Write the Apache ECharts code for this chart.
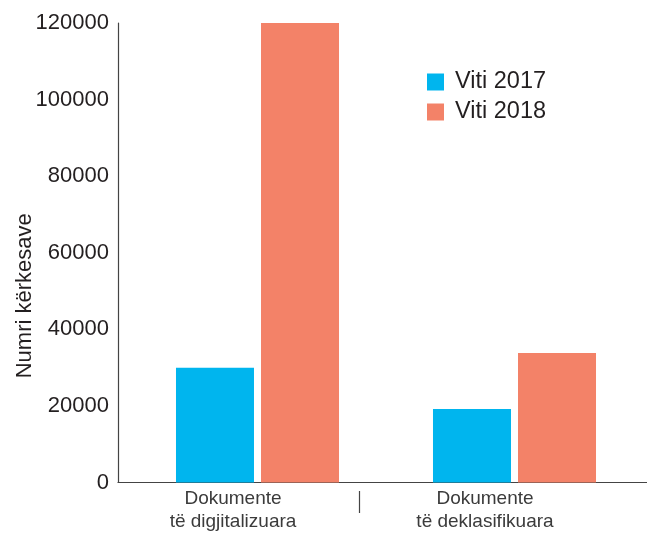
<!DOCTYPE html>
<html>
<head>
<meta charset="utf-8">
<script src="https://cdn.jsdelivr.net/npm/echarts@6/dist/echarts.min.js"></script>
<style>
  html, body { margin: 0; padding: 0; background: #fff; }
  #chart { width: 647px; height: 534px; }
</style>
</head>
<body>
<div id="chart"></div>
<script>
  // data
  const categories = ['Dokumente\ntë digjitalizuara', 'Dokumente\ntë deklasifikuara'];
  const seriesNames = ['Viti 2017', 'Viti 2018'];
  const viti2017 = [30000, 19200];
  const viti2018 = [120000, 33800];
  const yMin = 0;
  const yMax = 120000;
  const yStep = 20000;
  const yName = 'Numri kërkesave';

  const font = 'Liberation Sans, Arial, sans-serif';
  const axisColor = '#444';
  const textColor = '#231f20';

  // label axis: a blank slot between the two categories carries the separator tick
  const labelCats = [categories[0], '', categories[1]];

  let myChart = echarts.init(document.getElementById('chart'));
  let option = {
    animation: false,
    textStyle: { fontFamily: font },
    grid: [
      { left: 118, right: 0, top: 23, bottom: 51.5 },   // axes
      { left: 129, right: 4, top: 23, bottom: 51.5 },   // bars
      { left: 170, right: 99, top: 23, bottom: 51.5 },  // category labels
      { left: 118, right: 0, top: 109, bottom: 51.5 },  // y name
      { left: 170, right: 99, top: 23, bottom: 21 }     // separator tick
    ],
    legend: {
      orient: 'vertical',
      left: 422,
      top: 64,
      icon: 'rect',
      itemWidth: 17,
      itemHeight: 17,
      itemGap: 4,
      textStyle: { fontSize: 23.5, color: textColor, padding: [0, 0, 0, 6], lineHeight: 26 },
      data: seriesNames
    },
    xAxis: [
      {
        gridIndex: 0, type: 'value', min: 0, max: 1,
        axisLine: { show: true, lineStyle: { color: axisColor, width: 1.2 } },
        axisTick: { show: false }, axisLabel: { show: false }, splitLine: { show: false }
      },
      {
        gridIndex: 1, type: 'category', data: categories, show: false
      },
      {
        gridIndex: 2, type: 'category', data: labelCats, offset: 10,
        axisLine: { show: false },
        axisTick: { show: false },
        axisLabel: { interval: 0, margin: -1, fontSize: 19, lineHeight: 23.5, color: '#3b3b3b' },
        splitLine: { show: false }
      },
      {
        gridIndex: 3, type: 'value', show: false
      },
      {
        gridIndex: 4, type: 'category', data: labelCats,
        axisLine: { show: false },
        axisLabel: { show: false },
        splitLine: { show: false },
        axisTick: {
          show: true, inside: true, alignWithLabel: true, length: 22,
          interval: function (index) { return index === 1; },
          lineStyle: { color: axisColor, width: 1.2 }
        }
      }
    ],
    yAxis: [
      {
        gridIndex: 0, type: 'value', min: yMin, max: yMax, interval: yStep,
        axisLine: { show: true, lineStyle: { color: axisColor, width: 1.2 } },
        axisTick: { show: false },
        splitLine: { show: false },
        axisLabel: { fontSize: 22, color: textColor, margin: 9, formatter: function (v) { return String(v); } }
      },
      {
        gridIndex: 1, type: 'value', min: yMin, max: yMax, show: false
      },
      {
        gridIndex: 2, type: 'value', show: false
      },
      {
        gridIndex: 3, type: 'value',
        axisLine: { show: false }, axisTick: { show: false },
        axisLabel: { show: false }, splitLine: { show: false },
        name: yName, nameLocation: 'middle', nameGap: 82,
        nameTextStyle: { fontSize: 22, color: textColor }
      },
      {
        gridIndex: 4, type: 'value', show: false
      }
    ],
    series: [
      {
        name: seriesNames[0], type: 'bar', xAxisIndex: 1, yAxisIndex: 1,
        barWidth: 78, barGap: '9%',
        itemStyle: { color: '#00B5EE' },
        data: viti2017
      },
      {
        name: seriesNames[1], type: 'bar', xAxisIndex: 1, yAxisIndex: 1,
        barWidth: 78, barGap: '9%',
        itemStyle: { color: '#F38268' },
        data: viti2018
      }
    ]
  };
  myChart.setOption(option);
</script>
</body>
</html>
